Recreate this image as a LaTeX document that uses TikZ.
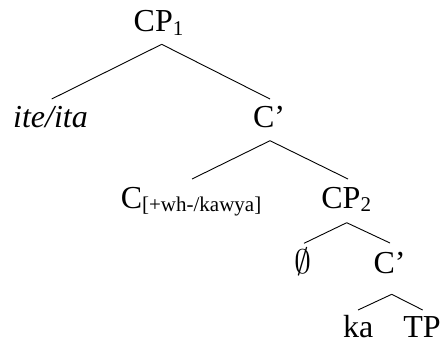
\documentclass[tikz,border=0pt]{standalone}
\usepackage{fontspec}
\setmainfont{Liberation Serif}
\newcommand{\lsub}[1]{\raisebox{-3.5pt}{\fontsize{21}{21}\selectfont #1}}
\begin{document}
\begin{tikzpicture}[x=1pt,y=-1pt,
  lbl/.style={anchor=base, inner sep=0pt, font=\fontsize{32}{38}\selectfont},
  br/.style={line width=0.9pt, black}]
\useasboundingbox (0,0) rectangle (443,343);
\node[lbl] (cp1) at (158.5,31.7) {CP\lsub{1}};
\node[lbl] (ite) at (50.5,127) {\itshape ite/ita};
\node[lbl] (cb1) at (269,127) {C’};
\node[lbl] (c) at (191,208) {C\lsub{[+wh-/kawya]}};
\node[lbl] (cp2) at (346.2,208) {CP\lsub{2}};
\node[lbl] (empty) at (302.5,273) {{\normalsize\scalebox{3.4}{$\emptyset$}}};
\node[lbl] (cb2) at (389.5,273) {C’};
\node[lbl, text depth=0pt] (ka) at (358.3,337) {ka};
\node[lbl, text depth=0pt] (tp) at (422,337) {TP};
\draw[br] ([xshift=3.2pt,yshift=-12.6pt]cp1.base) -- ([xshift=1.2pt,yshift=28pt]ite.base);
\draw[br] ([xshift=3.2pt,yshift=-12.6pt]cp1.base) -- ([xshift=1pt,yshift=28pt]cb1.base);
\draw[br] ([xshift=1pt,yshift=-13.7pt]cb1.base) -- ([xshift=1pt,yshift=29pt]c.base);
\draw[br] ([xshift=1pt,yshift=-13.7pt]cb1.base) -- ([xshift=1.8pt,yshift=29pt]cp2.base);
\draw[br] ([xshift=0.5pt,yshift=-14.7pt]cp2.base) -- ([xshift=1.5pt,yshift=29.7pt]empty.base);
\draw[br] ([xshift=0.5pt,yshift=-14.7pt]cp2.base) -- ([xshift=0.5pt,yshift=30pt]cb2.base);
\draw[br] ([xshift=2.2pt,yshift=-21.3pt]cb2.base) -- ([xshift=-0.3pt,yshift=27pt]ka.base);
\draw[br] ([xshift=2.2pt,yshift=-21.3pt]cb2.base) -- ([xshift=0.7pt,yshift=27pt]tp.base);
\end{tikzpicture}
\end{document}
